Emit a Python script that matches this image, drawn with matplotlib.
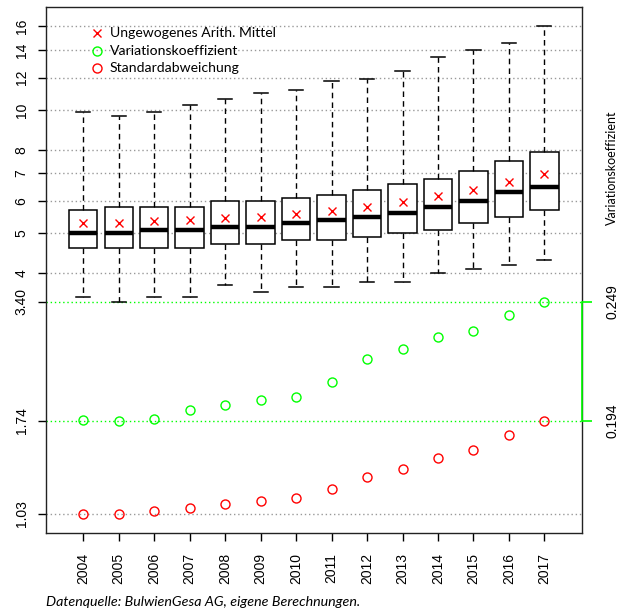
import matplotlib
matplotlib.use("Agg")
import matplotlib.pyplot as plt
import numpy as np

# ---------------- data ----------------
years = ["2004", "2005", "2006", "2007", "2008", "2009", "2010",
         "2011", "2012", "2013", "2014", "2015", "2016", "2017"]
whislo = [3.50, 3.40, 3.50, 3.50, 3.74, 3.60, 3.70, 3.70, 3.80, 3.80, 4.00, 4.10, 4.19, 4.30]
q1     = [4.60, 4.60, 4.60, 4.60, 4.70, 4.70, 4.80, 4.80, 4.89, 5.00, 5.09, 5.29, 5.49, 5.70]
median = [5.00, 5.00, 5.09, 5.09, 5.19, 5.19, 5.31, 5.39, 5.49, 5.60, 5.79, 6.00, 6.30, 6.49]
q3     = [5.69, 5.79, 5.79, 5.79, 5.99, 6.00, 6.09, 6.20, 6.39, 6.60, 6.79, 7.09, 7.50, 7.89]
whishi = [9.88, 9.68, 9.88, 10.28, 10.66, 10.97, 11.18, 11.78, 11.89, 12.46, 13.48, 13.97, 14.59, 15.99]
mean   = [5.31, 5.31, 5.37, 5.39, 5.45, 5.49, 5.56, 5.67, 5.81, 5.96, 6.17, 6.38, 6.66, 6.97]
std    = [1.034, 1.034, 1.046, 1.067, 1.092, 1.107, 1.127, 1.184, 1.267, 1.329, 1.412, 1.479, 1.607, 1.739]
varko  = [0.1945, 0.1940, 0.1948, 0.1976, 0.1995, 0.2011, 0.2025, 0.2082, 0.2179, 0.2229,
          0.2289, 0.2318, 0.2410, 0.2490]
main_ticks = [4, 5, 6, 7, 8, 10, 12, 14, 16]
legend_labels = ["Ungewogenes Arith. Mittel", "Variationskoeffizient", "Standardabweichung"]
source_note = "Datenquelle: BulwienGesa AG, eigene Berechnungen."
right_label = "Variationskoeffizient"

RED = "#FF0000"
GREEN = "#00FF00"
GREY = "#999999"
TICKFONT = "Liberation Sans"
TXTFONT = "Lato"

# ---------------- figure ----------------
fig = plt.figure(figsize=(6.25, 6.12), dpi=100)
ax = fig.add_axes([46/625, 1-533/612, (582-46)/625, (533-7)/612])
ax.set_yscale("log")

pos = np.arange(1, len(years) + 1)
std_a = np.array(std)
vk_a = np.array(varko)
wl_a = np.array(whislo)

# map the variation coefficient into the gap between max(std) and min(lower whisker)
band_lo = std_a.max()
band_hi = wl_a.min()
vk_plot = band_lo + (vk_a - vk_a.min()) / (vk_a.max() - vk_a.min()) * (band_hi - band_lo)

# y-limits as R would do it on a log axis (4 % extension)
all_vals = np.concatenate([std_a, vk_plot, wl_a, np.array(whishi)])
llo, lhi = np.log(all_vals.min()), np.log(all_vals.max())
ext = 0.04 * (lhi - llo)
ax.set_ylim(np.exp(llo - ext), np.exp(lhi + ext))
ax.set_xlim(-0.05, 15.06)

# grid lines
for v in main_ticks + [std_a.min()]:
    ax.axhline(v, color=GREY, lw=1, ls=(0, (1, 2)), zorder=1)
for v in [band_lo, band_hi]:
    ax.axhline(v, color=GREEN, lw=1, ls=(0, (1, 2)), zorder=1)

# boxplots
stats = []
for i in range(len(years)):
    stats.append(dict(med=median[i], q1=q1[i], q3=q3[i], whislo=whislo[i],
                      whishi=whishi[i], mean=mean[i], fliers=[]))
ax.bxp(stats, positions=pos, widths=0.8, showmeans=True, showfliers=False,
       patch_artist=True,
       boxprops=dict(facecolor="white", edgecolor="black", linewidth=1.1),
       medianprops=dict(color="black", linewidth=3.2, solid_capstyle="butt"),
       whiskerprops=dict(color="black", linewidth=1, linestyle=(0, (4, 3))),
       capprops=dict(color="black", linewidth=1.1),
       meanprops=dict(marker="x", markeredgecolor=RED, markersize=6, markeredgewidth=1.0,
                      linestyle="none"),
       capwidths=0.4, zorder=3)

# std and variation coefficient points
ax.plot(pos, std_a, linestyle="none", marker="o", mfc="none", mec=RED, ms=6.5, mew=1, zorder=4)
ax.plot(pos, vk_plot, linestyle="none", marker="o", mfc="none", mec=GREEN, ms=6.5, mew=1, zorder=4)

# axes ticks
ax.set_xticks(pos)
ax.set_xticklabels(years, rotation=90, fontfamily=TICKFONT, fontsize=10)
left_ticks = main_ticks + [band_hi, band_lo, std_a.min()]
left_labels = [str(t) for t in main_ticks] + ["%.2f" % band_hi, "%.2f" % band_lo, "%.2f" % std_a.min()]
ax.yaxis.set_major_locator(matplotlib.ticker.FixedLocator(left_ticks))
ax.yaxis.set_minor_locator(matplotlib.ticker.NullLocator())
ax.set_yticklabels(left_labels, rotation=90, va="center", fontfamily=TICKFONT, fontsize=10)
ax.tick_params(axis="both", length=6, width=1, color="black", pad=8.5)
ax.tick_params(axis="y", pad=6.5)
for s in ax.spines.values():
    s.set_linewidth(1)
    s.set_color("#222222")

# right axis for the variation coefficient
ax2 = ax.twinx()
ax2.set_yscale("log")
ax2.set_ylim(ax.get_ylim())
ax2.yaxis.set_major_locator(matplotlib.ticker.FixedLocator([band_lo, band_hi]))
ax2.yaxis.set_minor_locator(matplotlib.ticker.NullLocator())
ax2.set_yticklabels(["%.3f" % vk_a.min(), "%.3f" % vk_a.max()], rotation=90, va="center",
                    fontfamily=TICKFONT, fontsize=10)
ax2.tick_params(axis="y", length=7, width=1.2, color=GREEN, pad=10)
for k in ["left", "top", "bottom"]:
    ax2.spines[k].set_visible(False)
ax2.spines["right"].set_bounds(band_lo, band_hi)
ax2.spines["right"].set_color(GREEN)
ax2.spines["right"].set_linewidth(1.2)

fig.text(612/625, 1-168/612, right_label, rotation=90, ha="center", va="center",
         fontfamily=TXTFONT, fontsize=9)

# legend (no frame)
leg_markers = ["x", "o", "o"]
leg_colors = [RED, GREEN, RED]
for i, (lab, mk, col) in enumerate(zip(legend_labels, leg_markers, leg_colors)):
    yfrac = 1 - (33.3 + i * 17.5 - 7) / (533 - 7)
    xm = (96.5 - 46) / (582 - 46)
    if mk == "x":
        ax.plot([xm], [yfrac], transform=ax.transAxes, marker="x", mec=col, ms=6, mew=1.0,
                linestyle="none", zorder=5)
    else:
        ax.plot([xm], [yfrac], transform=ax.transAxes, marker="o", mfc="none", mec=col, ms=6.5,
                mew=1, linestyle="none", zorder=5)
    ax.text((110 - 46) / (582 - 46), yfrac, lab, transform=ax.transAxes, ha="left", va="center",
            fontfamily=TXTFONT, fontsize=10.1, zorder=5)

fig.text(46/625, 1-602/612, source_note, ha="left", va="center", fontfamily=TXTFONT,
         fontstyle="italic", fontsize=10.3)

fig.savefig("out.png", dpi=100)
